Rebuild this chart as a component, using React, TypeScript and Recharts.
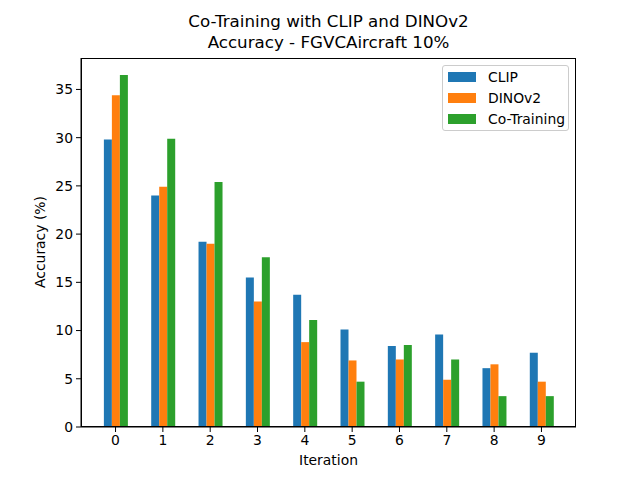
import React from 'react';
import { BarChart, Bar, XAxis, YAxis } from 'recharts';

const iterations = [0, 1, 2, 3, 4, 5, 6, 7, 8, 9];
const clipAcc = [29.8, 24.0, 19.2, 15.5, 13.7, 10.1, 8.4, 9.6, 6.1, 7.7];
const dinoAcc = [34.4, 24.9, 19.0, 13.0, 8.8, 6.9, 7.0, 4.9, 6.5, 4.7];
const coTrainAcc = [36.5, 29.9, 25.4, 17.6, 11.1, 4.7, 8.5, 7.0, 3.2, 3.2];
const yTicks = [0, 5, 10, 15, 20, 25, 30, 35];

const series = [
  { key: 'clip', name: 'CLIP', color: '#1f77b4' },
  { key: 'dino', name: 'DINOv2', color: '#ff7f0e' },
  { key: 'co', name: 'Co-Training', color: '#2ca02c' },
];

const data = iterations.map((it, i) => ({
  x: it,
  clip: clipAcc[i],
  dino: dinoAcc[i],
  co: coTrainAcc[i],
}));

const FONT = '"DejaVu Sans", sans-serif';
const tickStyle = { fontSize: 13.9, fill: '#000', fontFamily: FONT };

// plot box: left 81, top 58, right 576, bottom 427
const PLOT = { left: 81, top: 58, width: 495, height: 369 };

const App: React.FC = () => {
  return (
    <div style={{ position: 'absolute', left: 0, top: 0, width: 640, height: 480, background: '#fff', fontFamily: FONT, color: '#000' }}>
      <div style={{ position: 'absolute', left: PLOT.left, width: PLOT.width, top: 11, textAlign: 'center', fontSize: 16.7, lineHeight: '20.5px' }}>
        Co-Training with CLIP and DINOv2
        <br />
        Accuracy - FGVCAircraft 10%
      </div>
      <BarChart
        width={640}
        height={480}
        data={data}
        barGap={0}
        barSize={8}
        margin={{ top: PLOT.top, right: 640 - PLOT.left - PLOT.width, bottom: 0, left: 0 }}
      >
        <XAxis
          dataKey="x"
          type="number"
          domain={[-0.73, 9.73]}
          allowDataOverflow
          ticks={iterations}
          interval={0}
          height={480 - PLOT.top - PLOT.height}
          tick={tickStyle}
          tickSize={5}
          tickMargin={3}
          stroke="#000"
          tickLine={{ stroke: '#000' }}
        />
        <YAxis
          type="number"
          domain={[0, 38.26]}
          allowDataOverflow
          ticks={yTicks}
          interval={0}
          width={PLOT.left}
          tick={tickStyle}
          tickSize={5}
          tickMargin={3}
          stroke="#000"
          tickLine={{ stroke: '#000' }}
        />
        {series.map((s) => (
          <Bar key={s.key} dataKey={s.key} name={s.name} fill={s.color} isAnimationActive={false} />
        ))}
      </BarChart>
      <div
        style={{
          position: 'absolute',
          left: PLOT.left,
          top: PLOT.top,
          width: PLOT.width,
          height: PLOT.height,
          boxSizing: 'border-box',
          border: '1px solid #000',
          pointerEvents: 'none',
        }}
      />
      <div style={{ position: 'absolute', left: PLOT.left, width: PLOT.width, top: 452, textAlign: 'center', fontSize: 13.9 }}>
        Iteration
      </div>
      <div
        style={{
          position: 'absolute',
          left: 40,
          top: 242,
          transform: 'translate(-50%, -50%) rotate(-90deg)',
          whiteSpace: 'nowrap',
          fontSize: 13.9,
        }}
      >
        Accuracy (%)
      </div>
      <div
        style={{
          position: 'absolute',
          left: 442,
          top: 65,
          width: 127,
          height: 66,
          boxSizing: 'border-box',
          border: '1px solid #cccccc',
          borderRadius: 3,
          background: 'rgba(255,255,255,0.8)',
        }}
      >
        {series.map((s, i) => (
          <div key={s.key} style={{ position: 'absolute', left: 5, top: 6 + i * 21, height: 10, display: 'flex', alignItems: 'center' }}>
            <div style={{ width: 28, height: 10, background: s.color }} />
            <span style={{ marginLeft: 12, fontSize: 13.9, lineHeight: '10px' }}>{s.name}</span>
          </div>
        ))}
      </div>
    </div>
  );
};

export default App;
